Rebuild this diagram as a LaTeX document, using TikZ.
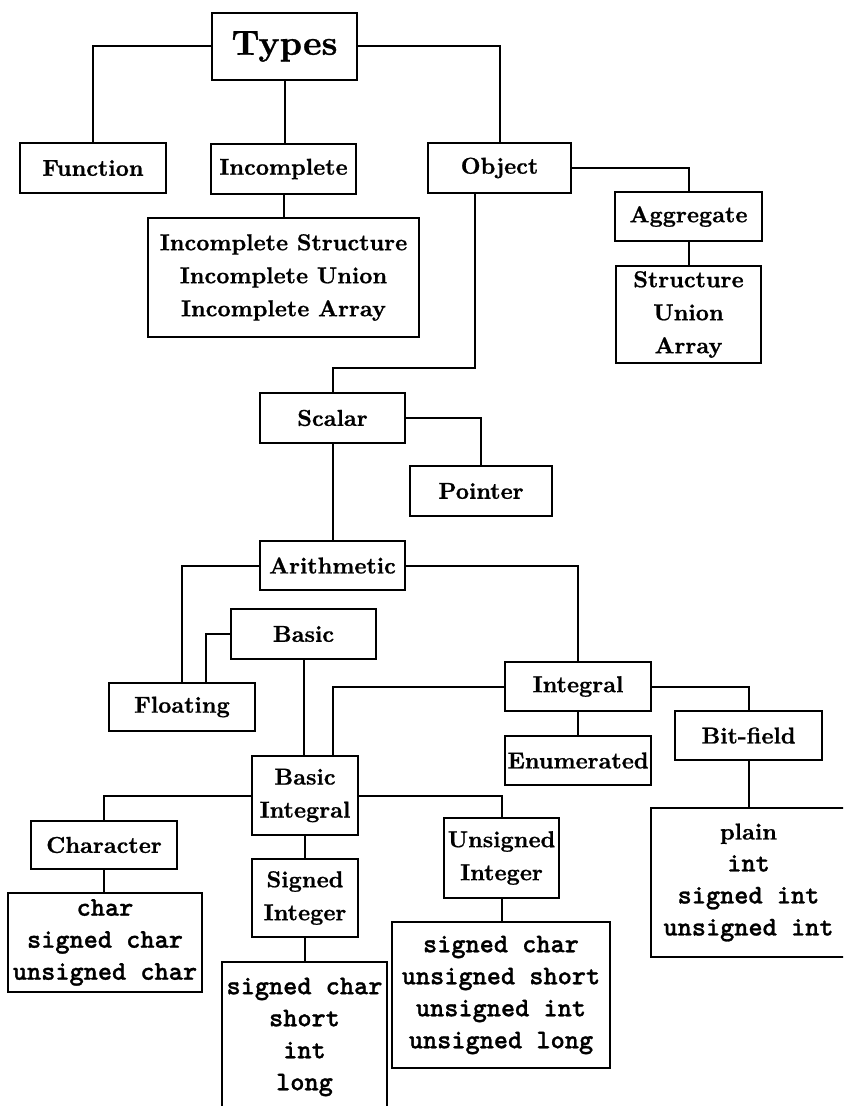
\documentclass[tikz,border=0pt]{standalone}
\usepackage{fontspec}
\newfontfamily\romanbold{lmroman10-bold.otf}[FakeBold=0.8]
\newfontfamily\monobold{lmmonolt10-bold.otf}[FakeBold=1.0]
\newcommand\mainfnt{\romanbold\fontsize{11.5}{16.5}\selectfont}
\newcommand\typesfnt{\romanbold\fontsize{17.5}{20}\selectfont}
\newcommand\codefnt{\monobold\fontsize{13.5}{16}\selectfont}
\tikzset{
  box/.style={draw, line width=1.4pt, inner sep=0pt, outer sep=0pt, align=center, font=\mainfnt},
  codebox/.style={box, font=\codefnt},
  conn/.style={line width=1pt},
}
% \bxnode[style]{name}{x1}{y1}{x2}{y2}{text}
\newcommand\bxnode[7][box]{%
  \node[#1, minimum width={(#5-#3)*0.5pt}, minimum height={(#6-#4)*0.5pt}]
    (#2) at ({(#3+#5)/2},{(#4+#6)/2}) {#7};}
\begin{document}
\begin{tikzpicture}[x=0.5pt, y=-0.5pt]
\useasboundingbox (0,0) rectangle (843,1106);
\clip (0,0) rectangle (843,1106);

\bxnode[box, font=\typesfnt]{types}{212}{13}{357}{80}{Types}
\bxnode{function}{20}{143}{166}{193}{Function}
\bxnode{incomplete}{211}{144}{356}{194}{Incomplete}
\bxnode{object}{428}{143}{571}{193}{Object}
\bxnode{inclist}{148}{218}{419}{337}{Incomplete Structure\\Incomplete Union\\Incomplete Array}
\bxnode{aggregate}{615}{192}{762}{241}{Aggregate}
\bxnode{structlist}{616}{266}{761}{363}{Structure\\Union\\Array}
\bxnode{scalar}{260}{393}{405}{443}{Scalar}
\bxnode{pointer}{410}{466}{552}{516}{Pointer}
\bxnode{arith}{260}{541}{405}{590}{Arithmetic}
\bxnode{basic}{231}{609}{376}{659}{Basic}
\bxnode{floating}{109}{683}{255}{731}{Floating}
\bxnode{integral}{505}{662}{651}{711}{Integral}
\bxnode{enumerated}{505}{736}{651}{785}{Enumerated}
\bxnode{bitfield}{675}{711}{822}{760}{Bit-field}
\bxnode[codebox]{bitlist}{651}{808}{846}{957}{{\mainfnt plain}\\int\\signed int\\unsigned int}
\bxnode{basicint}{252}{756}{358}{835}{Basic\\Integral}
\bxnode{character}{31}{821}{177}{869}{Character}
\bxnode[codebox]{charlist}{8}{893}{202}{992}{char\\signed char\\unsigned char}
\bxnode{signed}{252}{859}{358}{937}{Signed\\Integer}
\bxnode[codebox]{signedlist}{222}{962}{387}{1112}{signed char\\short\\int\\long}
\bxnode{unsigned}{444}{818}{559}{898}{Unsigned\\Integer}
\bxnode[codebox]{unslist}{392}{922}{610}{1068}{signed char\\unsigned short\\unsigned int\\unsigned long}

\coordinate (objbend) at (475,368);

\draw[conn] (types.west) -| (function.north);
\draw[conn] (types.south) -- (types.south |- incomplete.north);
\draw[conn] (types.east) -| (object.north);
\draw[conn] (incomplete.south) -- (incomplete.south |- inclist.north);
\draw[conn] (object.east) -| (aggregate.north);
\draw[conn] (aggregate.south) -- (aggregate.south |- structlist.north);
\draw[conn] (object.south -| objbend) -- (objbend) -| (scalar.north);
\draw[conn] (scalar.east) -| (pointer.north);
\draw[conn] (scalar.south) -- (scalar.south |- arith.north);
\draw[conn] (arith.west) -| (floating.north);
\draw[conn] (arith.east) -| (integral.north);
\draw[conn] (basic.west) -| ([xshift=12pt]floating.north);
\draw[conn] (basic.south) -- (basic.south |- basicint.north);
\draw[conn] (integral.west) -| ([xshift=14pt]basicint.north);
\draw[conn] (integral.east) -| (bitfield.north);
\draw[conn] (integral.south) -- (integral.south |- enumerated.north);
\draw[conn] (bitfield.south) -- (bitfield.south |- bitlist.north);
\draw[conn] (basicint.west) -| (character.north);
\draw[conn] (basicint.east) -| (unsigned.north);
\draw[conn] (character.south) -- (character.south |- charlist.north);
\draw[conn] (basicint.south) -- (basicint.south |- signed.north);
\draw[conn] (signed.south) -- (signed.south |- signedlist.north);
\draw[conn] (unsigned.south) -- (unsigned.south |- unslist.north);
\end{tikzpicture}
\end{document}
